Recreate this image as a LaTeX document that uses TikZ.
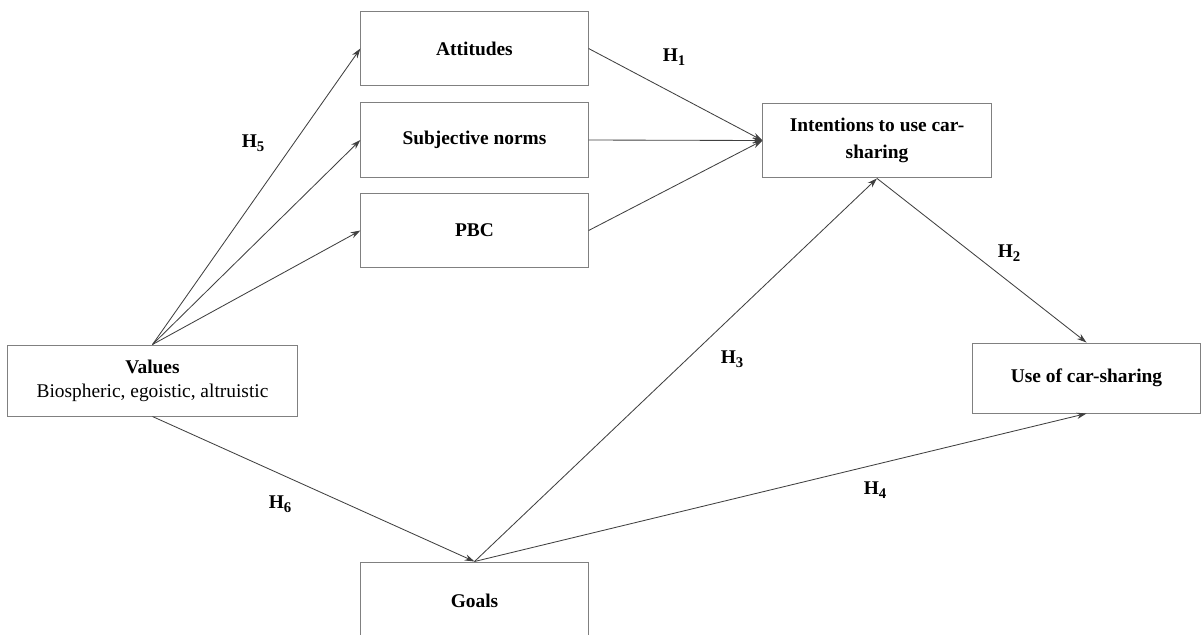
\documentclass[tikz,border=0pt]{standalone}
\usepackage{fontspec}
\setmainfont{Liberation Serif}
\usetikzlibrary{arrows.meta}
\definecolor{boxline}{rgb}{0.5, 0.5, 0.5}
\definecolor{linkline}{rgb}{0.25, 0.25, 0.25}
\tikzstyle{box} = [rectangle,draw=boxline,line width=0.7pt,align=center,inner sep=0pt,minimum width=5.68cm,minimum height=1.87cm,font=\fontsize{13.8}{16.5}\selectfont\bfseries]
\tikzstyle{hyp} = [font=\fontsize{13.8}{16.5}\selectfont\bfseries,inner sep=0pt]
\tikzstyle{link} = [-{Stealth[length=7pt,width=4.5pt]},draw=linkline,line width=0.6pt]
\newcommand{\hsub}[1]{H\raisebox{-0.45ex}{\fontsize{10.5}{10.5}\selectfont #1}}

\begin{document}
\begin{tikzpicture}[x=0.025cm,y=-0.025cm]
	\path[use as bounding box,clip](0,0) rectangle (1201,634);
	\node [box](att) at (474.5,48.5){Attitudes};
	\node [box](sn) at (474.5,140){Subjective norms};
	\node [box](pbc) at (474.5,230.5){PBC};
	\node [box,minimum width=5.7cm,font=\fontsize{13.8}{19}\selectfont\bfseries](intent) at (877,140.5){Intentions to use car-\\sharing};
	\node [box,minimum width=7.225cm,minimum height=1.775cm,font=\fontsize{13.8}{17}\selectfont\bfseries](values) at (152.5,380.5){Values\\\mdseries Biospheric, egoistic, altruistic};
	\node [box,minimum height=1.75cm](use) at (1086.5,378){Use of car-sharing};
	\node [box,minimum height=1.95cm](goals) at (474.5,601){Goals};

	\draw[link](values.north)--(att.west);
	\draw[link](values.north)--(sn.west);
	\draw[link](values.north)--(pbc.west);
	\draw[link](att.east)--(intent.west);
	\draw[link](sn.east)--(intent.west);
	\draw[link](pbc.east)--(intent.west);
	\draw[link](intent.south)--(use.north);
	\draw[link](values.south)--(goals.north);
	\draw[link](goals.north)--(intent.south);
	\draw[link](goals.north)--(use.south);

	\node [hyp](h1) at (674,57){\hsub{1}};
	\node [hyp](h2) at (1009,253){\hsub{2}};
	\node [hyp](h3) at (732,359){\hsub{3}};
	\node [hyp](h4) at (875,490){\hsub{4}};
	\node [hyp](h5) at (253,143){\hsub{5}};
	\node [hyp](h6) at (280,504){\hsub{6}};
\end{tikzpicture}
\end{document}
